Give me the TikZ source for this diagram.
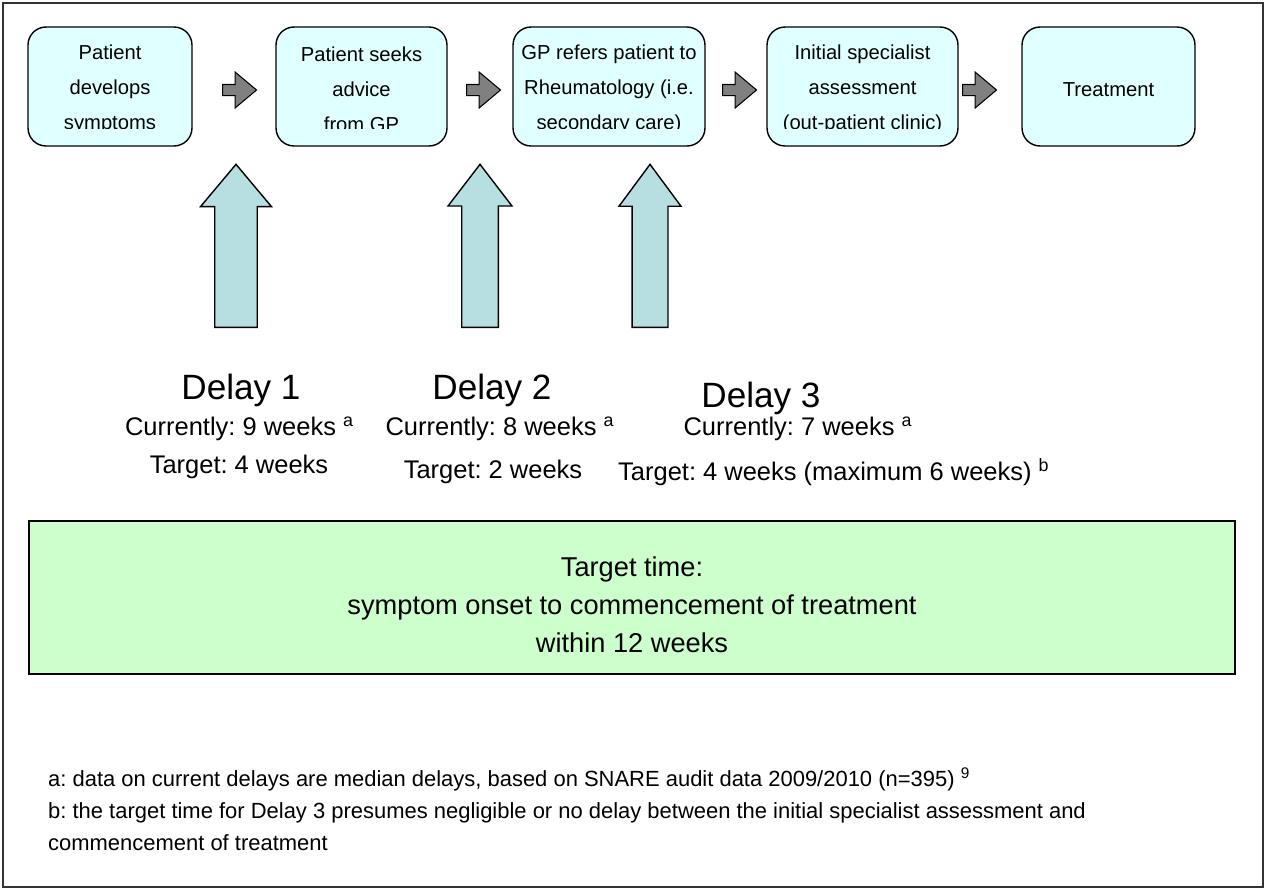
\documentclass[tikz,border=0pt]{standalone}
\usepackage{fontspec}
\setmainfont{Liberation Sans}
\usetikzlibrary{shapes.arrows}
\definecolor{stagefill}{HTML}{E0FFFF}
\definecolor{delayfill}{HTML}{B7DEE0}
\definecolor{linkfill}{HTML}{808080}
\definecolor{goalfill}{HTML}{CCFFCC}
\frenchspacing

\begin{document}
\begin{tikzpicture}[x=0.02cm,y=-0.02cm]
    \tikzset{stage/.style = {shape=rectangle,draw,rounded corners=0.36cm,line width=0.8pt,fill=stagefill,minimum height=2.38cm}}
    \tikzset{stagetext/.style = {align=center,font=\fontsize{11.5}{19.84}\selectfont}}
    \tikzset{link/.style = {single arrow,draw,fill=linkfill,line width=0.6pt,anchor=tail,minimum height=0.68cm,minimum width=0.4cm,inner sep=0.1cm,single arrow tip angle=80}}
    \tikzset{delay/.style = {single arrow,draw,fill=delayfill,line width=0.8pt,rotate=90,anchor=tail,minimum height=3.26cm}}
    \tikzset{delaytitle/.style = {font=\fontsize{20}{24}\selectfont}}
    \tikzset{delaytext/.style = {font=\fontsize{14.5}{17}\selectfont}}
    \tikzset{note/.style = {anchor=base west,font=\fontsize{12.5}{15}\selectfont}}
    \useasboundingbox (0,0) rectangle (1266,890);
    \draw[line width=0.9pt,black!80] (3,3) rectangle (1263,887);
    % stages
    \node[stage,minimum width=3.28cm] (s1) at (110,86.5) {};
    \node[stage,minimum width=3.42cm] (s2) at (361.5,86.5) {};
    \node[stage,minimum width=3.84cm] (s3) at (609,86.5) {};
    \node[stage,minimum width=3.82cm] (s4) at (862.5,86.5) {};
    \node[stage,minimum width=3.46cm] (s5) at (1108.5,86.5) {};
    \foreach \s/\t in {s1/{Patient\\develops\\symptoms},s2/{Patient seeks\\advice\\from GP},
        s3/{GP refers patient to\\Rheumatology (i.e.\\secondary care)},
        s4/{Initial specialist\\assessment\\(out-patient clinic)},s5/{Treatment}}{
        \begin{scope}
            \clip (\s.north west) rectangle ([yshift=0.36cm]\s.south east);
            \node[stagetext] (\s txt) at ([yshift=-0.06cm]\s) {\t};
        \end{scope}
    }
    % links
    \node[link] (l1) at (222,90) {};
    \node[link] (l2) at (466,90) {};
    \node[link] (l3) at (722,90) {};
    \node[link] (l4) at (962,90) {};
    % delays
    \node[delay,minimum width=1.42cm,inner sep=0.36cm,single arrow tip angle=80] (d1) at (236,328) {};
    \node[delay,minimum width=1.28cm,inner sep=0.32cm,single arrow tip angle=75] (d2) at (480,328) {};
    \node[delay,minimum width=1.24cm,inner sep=0.33cm,single arrow tip angle=73] (d3) at (650,328) {};
    \node[delaytitle] (t1) at (241,390) {Delay 1};
    \node[delaytitle] (t2) at (492,390) {Delay 2};
    \node[delaytitle] (t3) at (761,398) {Delay 3};
    \node[delaytext] (c1) at (239.5,429) {Currently: 9 weeks \textsuperscript{a}};
    \node[delaytext] (g1) at (239,467) {Target: 4 weeks};
    \node[delaytext] (c2) at (500,429) {Currently: 8 weeks \textsuperscript{a}};
    \node[delaytext] (g2) at (493,472) {Target: 2 weeks};
    \node[delaytext] (c3) at (798,429) {Currently: 7 weeks \textsuperscript{a}};
    \node[delaytext,anchor=west] (g3) at (612,472) {Target: 4 weeks (maximum 6 weeks) \textsuperscript{b}};
    % target
    \node[draw,line width=0.9pt,fill=goalfill,minimum width=24.12cm,minimum height=3.06cm] (goal) at (632,597.5) {};
    \node[align=center,font=\fontsize{15.5}{21.5}\selectfont] (goaltxt) at (632,605)
        {Target time:\\symptom onset to commencement of treatment\\within 12 weeks};
    % notes
    \node[note] (n1) at (42,786) {a: data on current delays are median delays, based on SNARE audit data 2009/2010 (n=395) \textsuperscript{9}};
    \node[note] (n2) at (42,818) {b: the target time for Delay 3 presumes negligible or no delay between the initial specialist assessment and};
    \node[note] (n3) at (42,850) {commencement of treatment};
\end{tikzpicture}
\end{document}
